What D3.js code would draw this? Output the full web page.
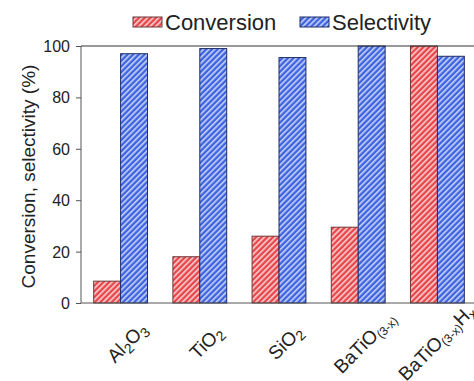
<!DOCTYPE html>
<html>
<head>
<meta charset="utf-8">
<script src="https://cdn.jsdelivr.net/npm/d3@7"></script>
<style>
  body { margin: 0; background: #fff; }
  text { font-family: "Liberation Sans", Arial, sans-serif; fill: #222; }
</style>
</head>
<body>
<div id="chart"></div>
<script>
// data
var catalysts = ["Al2O3", "TiO2", "SiO2", "BaTiO3x", "BaTiO3xHx"];
var conversion = [8.5, 18, 26, 29.5, 100];
var selectivity = [97, 99, 95.5, 100, 96];
var yTicks = [0, 20, 40, 60, 80, 100];

// label pieces: [text, isSub]
var labelParts = {
  "Al2O3": [["Al", 0], ["2", 1], ["O", 0], ["3", 1]],
  "TiO2": [["TiO", 0], ["2", 1]],
  "SiO2": [["SiO", 0], ["2", 1]],
  "BaTiO3x": [["BaTiO", 0], ["(3-x)", 1]],
  "BaTiO3xHx": [["BaTiO", 0], ["(3-x)", 1], ["H", 0], ["x", 1]]
};

var svgWidth = 474;
var svgHeight = 381;

var margin = { top: 46, right: -3, bottom: 78, left: 81 };
var width = svgWidth - margin.left - margin.right;
var height = svgHeight - margin.top - margin.bottom;

var svg = d3.select("#chart")
  .append("svg")
  .attr("width", svgWidth)
  .attr("height", svgHeight);

// hatch patterns
var defs = svg.append("defs");
function hatch(id, base, stripe) {
  var p = defs.append("pattern")
    .attr("id", id)
    .attr("patternUnits", "userSpaceOnUse")
    .attr("width", 4)
    .attr("height", 4)
    .attr("patternTransform", "rotate(45)");
  p.append("rect").attr("width", 4).attr("height", 4).attr("fill", base);
  p.append("rect").attr("width", 1.6).attr("height", 4).attr("fill", stripe);
}
hatch("hatchRed", "#e8454a", "#fbd3d3");
hatch("hatchBlue", "#3f63de", "#c9d6fb");

var series = [
  { key: "Conversion", values: conversion, fill: "url(#hatchRed)", stroke: "#6b3a3a" },
  { key: "Selectivity", values: selectivity, fill: "url(#hatchBlue)", stroke: "#1f2d66" }
];

var chartGroup = svg.append("g")
  .attr("transform", `translate(${margin.left}, ${margin.top})`);

var x0 = d3.scaleBand()
  .domain(catalysts)
  .range([0, width])
  .paddingInner(0.32)
  .paddingOuter(0.16);

var x1 = d3.scaleBand()
  .domain(series.map(s => s.key))
  .range([0, x0.bandwidth()]);

var y = d3.scaleLinear()
  .domain([0, 100])
  .range([height, 0]);

// bars
series.forEach(function(s) {
  chartGroup.selectAll("rect." + s.key)
    .data(catalysts)
    .enter()
    .append("rect")
    .attr("class", s.key)
    .attr("x", d => x0(d) + x1(s.key))
    .attr("y", (d, i) => y(s.values[i]))
    .attr("width", x1.bandwidth())
    .attr("height", (d, i) => height - y(s.values[i]))
    .attr("fill", s.fill)
    .attr("stroke", s.stroke)
    .attr("stroke-width", 1);
});

// y axis
var yAxis = chartGroup.append("g")
  .call(d3.axisLeft(y).tickValues(yTicks).tickSize(5).tickPadding(6));
yAxis.select(".domain").attr("stroke", "#555").attr("d", `M0,0V${height}`);
yAxis.selectAll(".tick line").attr("stroke", "#555");
yAxis.selectAll(".tick text")
  .attr("font-size", "16px")
  .attr("dy", "0.34em")
  .style("font-family", "'Liberation Sans', Arial, sans-serif")
  .attr("fill", "#222");

// baseline and top frame line
chartGroup.append("line")
  .attr("x1", 0).attr("x2", width)
  .attr("y1", y(0)).attr("y2", y(0))
  .attr("stroke", "#555");
chartGroup.append("line")
  .attr("x1", 0).attr("x2", width)
  .attr("y1", y(100)).attr("y2", y(100))
  .attr("stroke", "#333");

// x labels, rotated -45, centred under each group (pulled in at the right edge)
catalysts.forEach(function(c) {
  var mx = x0(c) + x0.bandwidth() / 2 + 11;
  var t = chartGroup.append("text")
    .attr("text-anchor", "middle")
    .attr("font-size", "19px");
  labelParts[c].forEach(function(p) {
    var ts = t.append("tspan").text(p[0]);
    if (p[1]) {
      ts.attr("font-size", p[0].length > 1 ? "12px" : "14px")
        .attr("baseline-shift", "-25%");
    }
  });
  var half = t.node().getComputedTextLength() * 0.354;
  if (mx + half > width - 1) mx = width - 1 - half;
  t.attr("transform", `translate(${mx}, ${height + 44}) rotate(-45)`);
});

// y axis title
svg.append("text")
  .attr("transform", `translate(35, ${margin.top + height / 2 + 2}) rotate(-90)`)
  .attr("text-anchor", "middle")
  .attr("font-size", "19px")
  .text("Conversion, selectivity (%)");

// legend
var legend = svg.append("g");
var legendX = [133, 300];
series.forEach(function(s, i) {
  legend.append("rect")
    .attr("x", legendX[i])
    .attr("y", 17)
    .attr("width", 29)
    .attr("height", 10)
    .attr("fill", s.fill)
    .attr("stroke", s.stroke);
  legend.append("text")
    .attr("x", legendX[i] + 32)
    .attr("y", 30)
    .attr("font-size", "22px")
    .text(s.key);
});
</script>
</body>
</html>
